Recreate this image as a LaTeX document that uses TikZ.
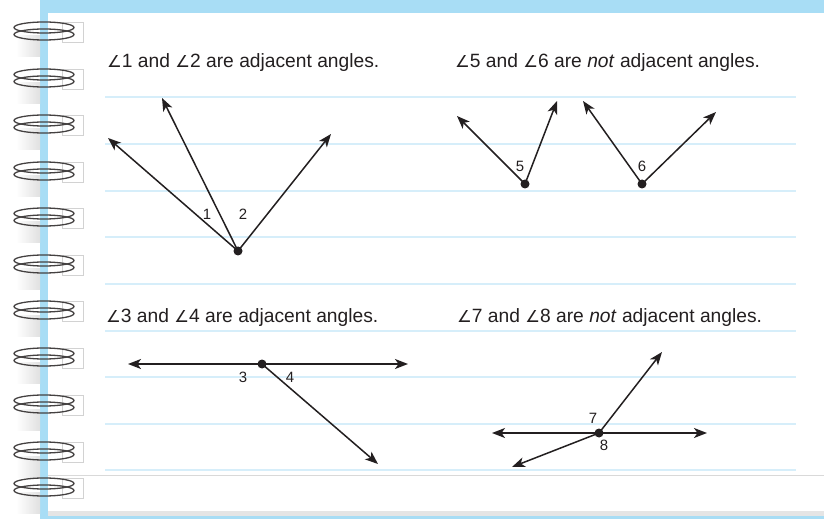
\documentclass[tikz,border=0pt]{standalone}
\usepackage{fontspec}
\setmainfont{Liberation Sans}
\newfontfamily\symfont{DejaVu Sans}
\usetikzlibrary{arrows.meta}
\definecolor{pageblue}{HTML}{A8DDF5}
\definecolor{ruleblue}{HTML}{D6EEFA}
\definecolor{ink}{HTML}{231F20}
\definecolor{holegray}{HTML}{D2D2D2}
\newcommand{\ang}{{\symfont\fontsize{16.5}{18}\selectfont ∠}}
\tikzset{
  sentence/.style={anchor=base west, text=ink, inner sep=0pt, font=\fontsize{19.3}{22}\selectfont},
  numlabel/.style={text=ink, inner sep=0pt, font=\fontsize{15}{17}\selectfont},
  ray/.style={draw=ink, line width=1.5bp, -{Stealth[length=13bp,width=10bp,inset=3.5bp]}},
  vertexdot/.style={circle, fill=ink, inner sep=0pt, minimum size=9bp},
  ruled/.style={draw=ruleblue, line width=1.6bp},
  coil/.style={draw=ink!85, line width=1.3bp},
  hole/.style={draw=holegray, fill=white, line width=0.8bp}
}
\begin{document}
\begin{tikzpicture}[x=1bp,y=-1bp]
\useasboundingbox (0,0) rectangle (824,519);
% page
\fill[pageblue] (40,0) rectangle (824,13);
\fill[pageblue] (40,0) rectangle (48,519);
\fill[pageblue] (48,516) rectangle (824,519);
\fill[black!10] (48,511) rectangle (824,516);
\fill[white] (48,13) rectangle (824,511);
\draw[black!15, line width=1bp] (48,475) -- (824,475);
% ruled lines
\foreach \yy in {97,144,191,237,284,331,377,424,470}
  \draw[ruled] (105,\yy) -- (796,\yy);
% spirals
\foreach \cc in {31,78,124,171,217,264,310,357,404,451,487}{
  \shade[left color=white, right color=black!12] (16,\cc+5) rectangle (40,\cc+26);
  \draw[hole] (62,\cc-9) rectangle (83,\cc+11);
  \draw[coil] (44,\cc-3.5) ellipse [x radius=30, y radius=5.5];
  \draw[coil] (44,\cc+3.5) ellipse [x radius=30, y radius=5.5];
}
% sentences
\node[sentence] (s12) at (107,68) {\ang1 and \ang2 are adjacent angles.};
\node[sentence] (s56) at (455,68) {\ang5 and \ang6 are \textit{not} adjacent angles.};
\node[sentence] (s34) at (106,323) {\ang3 and \ang4 are adjacent angles.};
\node[sentence] (s78) at (457,323) {\ang7 and \ang8 are \textit{not} adjacent angles.};
% figure 1-2
\coordinate (v12) at (238,251);
\coordinate (a1) at (108,138);
\coordinate (a2) at (162,98);
\coordinate (a3) at (331,134);
\draw[ray] (v12) -- (a1);
\draw[ray] (v12) -- (a2);
\draw[ray] (v12) -- (a3);
\node[vertexdot] (d12) at (v12) {};
\node[numlabel] (l1) at (207,214) {1};
\node[numlabel] (l2) at (243,214) {2};
% figure 5
\coordinate (v5) at (525,184);
\coordinate (b1) at (457,116);
\coordinate (b2) at (557,101);
\draw[ray] (v5) -- (b1);
\draw[ray] (v5) -- (b2);
\node[vertexdot] (d5) at (v5) {};
\node[numlabel] (l5) at (520,166) {5};
% figure 6
\coordinate (v6) at (642,184);
\coordinate (c1) at (583,101);
\coordinate (c2) at (716,112);
\draw[ray] (v6) -- (c1);
\draw[ray] (v6) -- (c2);
\node[vertexdot] (d6) at (v6) {};
\node[numlabel] (l6) at (642,166) {6};
% figure 3-4
\coordinate (v34) at (262,364);
\coordinate (e1) at (128,364);
\coordinate (e2) at (408,364);
\coordinate (e3) at (378,464);
\draw[ray] (v34) -- (e1);
\draw[ray] (v34) -- (e2);
\draw[ray] (v34) -- (e3);
\node[vertexdot] (d34) at (v34) {};
\node[numlabel] (l3) at (243,377) {3};
\node[numlabel] (l4) at (290,377) {4};
% figure 7-8
\coordinate (v78) at (599,433);
\coordinate (f1) at (492,433);
\coordinate (f2) at (707,433);
\coordinate (f3) at (662,352);
\coordinate (f4) at (512,467);
\draw[ray] (v78) -- (f1);
\draw[ray] (v78) -- (f2);
\draw[ray] (v78) -- (f3);
\draw[ray] (v78) -- (f4);
\node[vertexdot] (d78) at (v78) {};
\node[numlabel] (l7) at (593,418) {7};
\node[numlabel] (l8) at (604,445) {8};
\end{tikzpicture}
\end{document}
